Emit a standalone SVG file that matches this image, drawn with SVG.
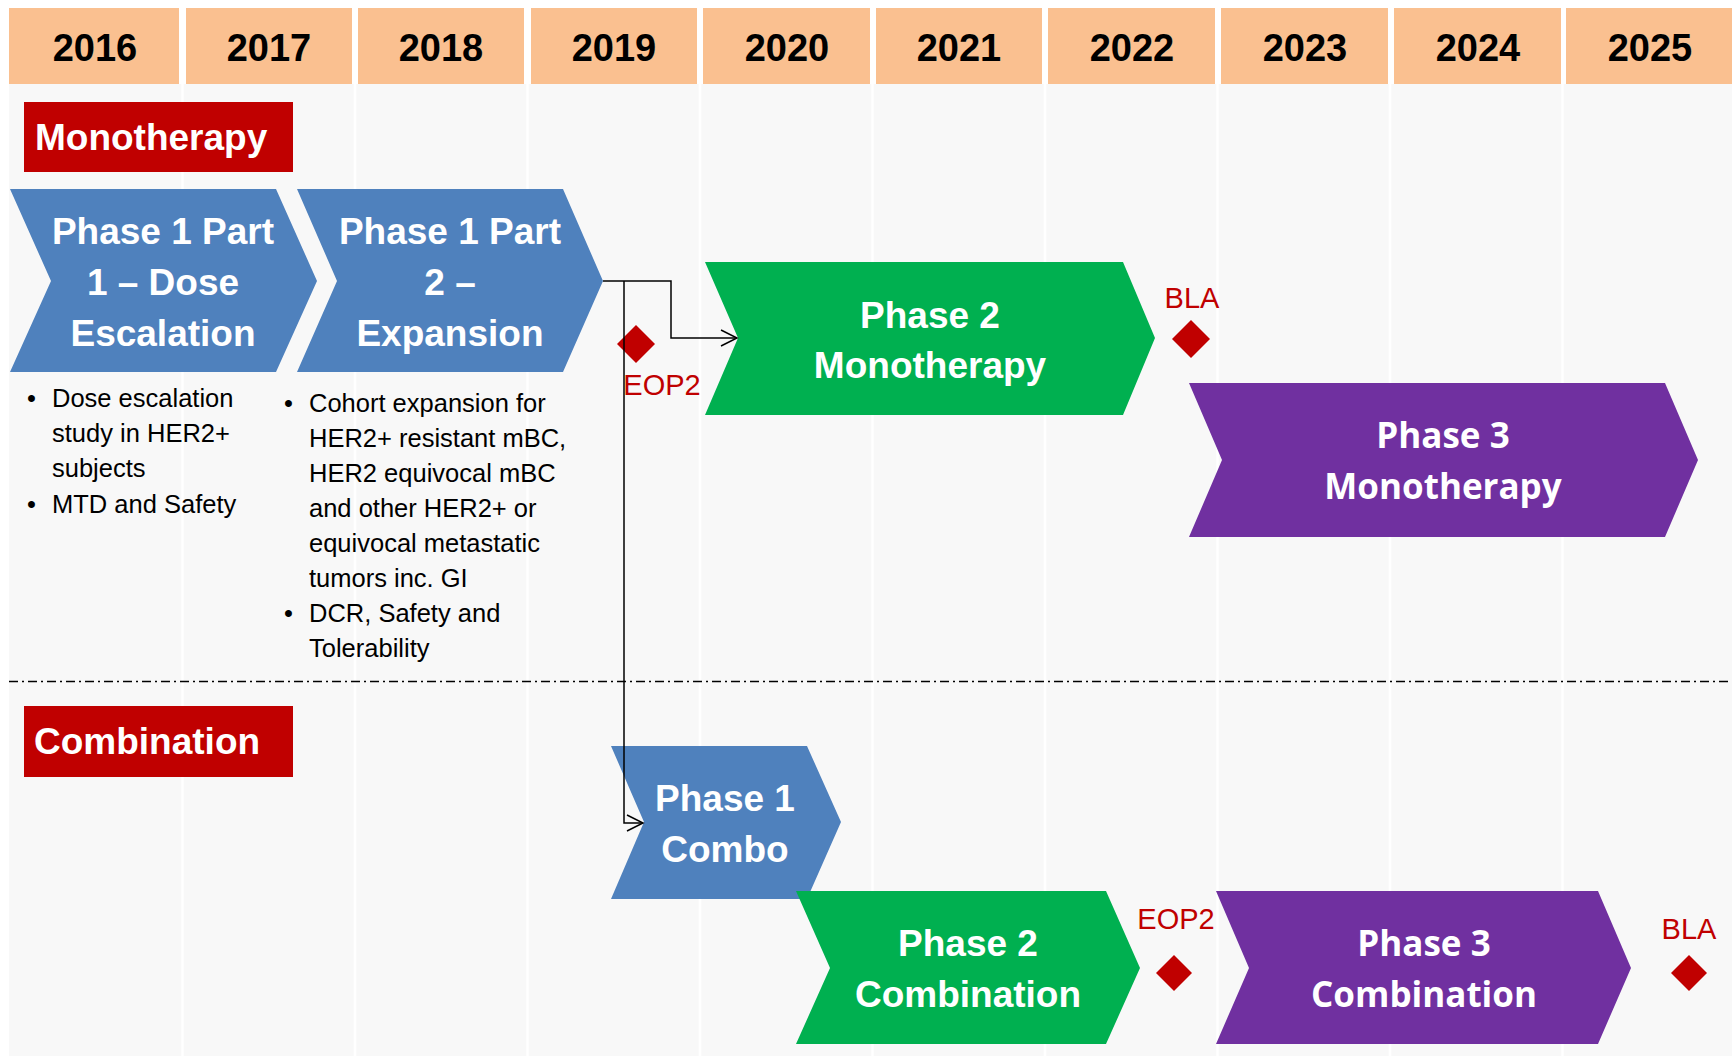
<svg xmlns="http://www.w3.org/2000/svg" width="1732" height="1056" viewBox="0 0 1732 1056">
<defs>
<style>
.yr{font-family:"Liberation Sans",Arial,sans-serif;font-weight:bold;font-size:38px;fill:#000;text-anchor:middle}
.hd{fill:#FAC090}
.lbl{fill:#C00000}
.lblt{font-family:"Liberation Sans",Arial,sans-serif;font-weight:bold;font-size:37px;fill:#fff}
.nt{font-family:"Liberation Sans",Arial,sans-serif;font-weight:bold;font-size:37px;fill:#fff;text-anchor:middle}
.pt{font-family:"Open Sans","Liberation Sans",sans-serif;font-weight:bold;font-size:35px;fill:#fff;text-anchor:middle}
.blue{fill:#4F81BD}
.green{fill:#00B050}
.purple{fill:#7030A0}
.ms{fill:#C00000}
.mt{font-family:"Liberation Sans",Arial,sans-serif;font-size:29px;fill:#C00000;text-anchor:middle}
.bt{font-family:"Liberation Sans",Arial,sans-serif;font-size:25.5px;fill:#000}
.conn{fill:none;stroke:#000;stroke-width:1.5}
.sep{stroke:#fff;stroke-width:2.5}
</style>
<marker id="arr" markerUnits="userSpaceOnUse" markerWidth="20" markerHeight="20" refX="17" refY="9" orient="auto">
<path d="M1,1 L17,9 L1,17" fill="none" stroke="#000" stroke-width="1.5"/>
</marker>
</defs>
<rect x="0" y="0" width="1732" height="1056" fill="#fff"/>
<g id="background">
<rect x="9" y="84" width="1723" height="972" fill="#F8F8F8"/>
<line class="sep" x1="182.5" y1="84" x2="182.5" y2="1056"/>
<line class="sep" x1="355" y1="84" x2="355" y2="1056"/>
<line class="sep" x1="527.5" y1="84" x2="527.5" y2="1056"/>
<line class="sep" x1="700" y1="84" x2="700" y2="1056"/>
<line class="sep" x1="872.5" y1="84" x2="872.5" y2="1056"/>
<line class="sep" x1="1045" y1="84" x2="1045" y2="1056"/>
<line class="sep" x1="1217.5" y1="84" x2="1217.5" y2="1056"/>
<line class="sep" x1="1390" y1="84" x2="1390" y2="1056"/>
<line class="sep" x1="1562.5" y1="84" x2="1562.5" y2="1056"/>
</g>
<g id="header">
<rect class="hd" x="9" y="8" width="170" height="76"/>
<rect class="hd" x="186" y="8" width="166" height="76"/>
<rect class="hd" x="358" y="8" width="166" height="76"/>
<rect class="hd" x="531" y="8" width="166" height="76"/>
<rect class="hd" x="703" y="8" width="167" height="76"/>
<rect class="hd" x="876" y="8" width="166" height="76"/>
<rect class="hd" x="1048" y="8" width="167" height="76"/>
<rect class="hd" x="1221" y="8" width="167" height="76"/>
<rect class="hd" x="1394" y="8" width="167" height="76"/>
<rect class="hd" x="1566" y="8" width="166" height="76"/>
<text class="yr" x="95" y="61">2016</text>
<text class="yr" x="269" y="61">2017</text>
<text class="yr" x="441" y="61">2018</text>
<text class="yr" x="614" y="61">2019</text>
<text class="yr" x="787" y="61">2020</text>
<text class="yr" x="959" y="61">2021</text>
<text class="yr" x="1132" y="61">2022</text>
<text class="yr" x="1305" y="61">2023</text>
<text class="yr" x="1478" y="61">2024</text>
<text class="yr" x="1650" y="61">2025</text>
</g>
<g id="label-monotherapy">
<rect class="lbl" x="24" y="102" width="269" height="70"/>
<text class="lblt" x="35" y="150">Monotherapy</text>
</g>
<g id="label-combination">
<rect class="lbl" x="24" y="706" width="269" height="71"/>
<text class="lblt" x="34" y="754">Combination</text>
</g>
<line id="divider" x1="9" y1="681.5" x2="1732" y2="681.5" stroke="#000" stroke-width="1.5" stroke-dasharray="9 4 2 4"/>
<g id="phase1-part1">
<polygon class="blue" points="10,189 276,189 317,281 276,372 10,372 51,281"/>
<text class="nt" x="163" y="244">Phase 1 Part</text>
<text class="nt" x="163" y="295">1 – Dose</text>
<text class="nt" x="163" y="346">Escalation</text>
</g>
<g id="phase1-part2">
<polygon class="blue" points="297,189 563,189 603,281 563,372 297,372 337,281"/>
<text class="nt" x="450" y="244">Phase 1 Part</text>
<text class="nt" x="450" y="295">2 –</text>
<text class="nt" x="450" y="346">Expansion</text>
</g>
<g id="notes-part1">
<text class="bt" x="27" y="407">•</text>
<text class="bt" x="52" y="407">Dose escalation</text>
<text class="bt" x="52" y="442">study in HER2+</text>
<text class="bt" x="52" y="477">subjects</text>
<text class="bt" x="27" y="513">•</text>
<text class="bt" x="52" y="513">MTD and Safety</text>
</g>
<g id="notes-part2">
<text class="bt" x="284" y="412">•</text>
<text class="bt" x="309" y="412">Cohort expansion for</text>
<text class="bt" x="309" y="447">HER2+ resistant mBC,</text>
<text class="bt" x="309" y="482">HER2 equivocal mBC</text>
<text class="bt" x="309" y="517">and other HER2+ or</text>
<text class="bt" x="309" y="552">equivocal metastatic</text>
<text class="bt" x="309" y="587">tumors inc. GI</text>
<text class="bt" x="284" y="622">•</text>
<text class="bt" x="309" y="622">DCR, Safety and</text>
<text class="bt" x="309" y="657">Tolerability</text>
</g>
<g id="eop2-mono">
<polygon class="ms" points="636,325 655,344 636,363 617,344"/>
<text class="mt" x="662" y="395">EOP2</text>
</g>
<g id="phase2-mono">
<polygon class="green" points="705,262 1123,262 1155,338 1123,415 705,415 738,338"/>
<text class="nt" x="930" y="328">Phase 2</text>
<text class="nt" x="930" y="378">Monotherapy</text>
</g>
<g id="bla-mono">
<text class="mt" x="1192" y="308">BLA</text>
<polygon class="ms" points="1191,320 1210,339 1191,358 1172,339"/>
</g>
<g id="phase3-mono">
<polygon class="purple" points="1189,383 1665,383 1698,460 1665,537 1189,537 1222,460"/>
<text class="pt" x="1443" y="448">Phase 3</text>
<text class="pt" x="1443" y="499">Monotherapy</text>
</g>
<g id="phase1-combo">
<polygon class="blue" points="611,746 807,746 841,822 807,899 611,899 644,822"/>
<text class="nt" x="725" y="811">Phase 1</text>
<text class="nt" x="725" y="862">Combo</text>
</g>
<g id="phase2-combination">
<polygon class="green" points="796,891 1106,891 1140,968 1106,1044 796,1044 830,968"/>
<text class="nt" x="968" y="956">Phase 2</text>
<text class="nt" x="968" y="1007">Combination</text>
</g>
<g id="eop2-combination">
<text class="mt" x="1176" y="929">EOP2</text>
<polygon class="ms" points="1174,955 1192,973 1174,991 1156,973"/>
</g>
<g id="phase3-combination">
<polygon class="purple" points="1216,891 1598,891 1631,968 1598,1044 1216,1044 1249,968"/>
<text class="pt" x="1424" y="956">Phase 3</text>
<text class="pt" x="1424" y="1007">Combination</text>
</g>
<g id="bla-combination">
<text class="mt" x="1689" y="939">BLA</text>
<polygon class="ms" points="1689,955 1707,973 1689,991 1671,973"/>
</g>
<g id="connectors">
<path class="conn" d="M603,281 H671 V338 H737" marker-end="url(#arr)"/>
<path class="conn" d="M624,281 V823 H643" marker-end="url(#arr)"/>
</g>
</svg>
